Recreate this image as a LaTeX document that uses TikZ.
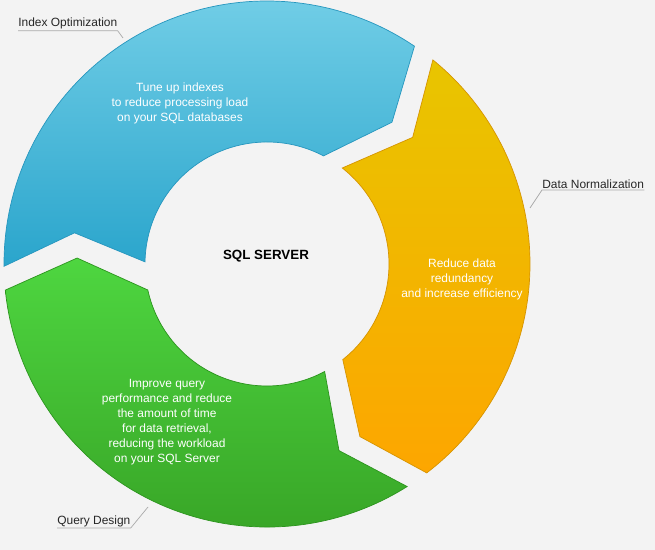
\documentclass[tikz,border=0pt]{standalone}
\usepackage{fontspec}
\setmainfont{Liberation Sans}
\usetikzlibrary{calc,positioning}
\definecolor{bgc}{RGB}{243,243,243}
\definecolor{bluetop}{RGB}{112,205,230}
\definecolor{bluebot}{RGB}{42,165,204}
\definecolor{blueline}{RGB}{38,150,190}
\definecolor{orgtop}{RGB}{232,197,0}
\definecolor{orgbot}{RGB}{253,166,0}
\definecolor{orgline}{RGB}{214,148,0}
\definecolor{grntop}{RGB}{78,214,64}
\definecolor{grnbot}{RGB}{54,160,36}
\definecolor{grnline}{RGB}{44,148,30}
\definecolor{leadc}{RGB}{170,170,170}
\tikzset{
  seg/.style={line width=0.4pt},
  intext/.style={text=white,align=center,font=\fontsize{6.8}{8.5}\selectfont},
  lbl/.style={text=black!85,inner xsep=0pt,inner ysep=0.6pt,font=\fontsize{6.8}{8}\selectfont},
  lead/.style={draw=leadc,line width=0.4pt},
}

\begin{document}
\begin{tikzpicture}[x=0.02cm,y=0.02cm]
  \fill[bgc] (0,0) rectangle (655,550);
  \useasboundingbox (0,0) rectangle (655,550);
  \coordinate (C) at (267,286);
  % blue segment (top left)
  \shadedraw[seg,top color=bluetop,bottom color=bluebot,draw=blueline]
    ($(C)+(180.5:263)$) arc[start angle=180.5,end angle=55.9,radius=263]
    -- ($(C)+(48.6:189)$) -- ($(C)+(62.4:122)$)
    arc[start angle=62.4,end angle=179,radius=122]
    -- ($(C)+(170.8:195)$) -- cycle;
  % orange segment (right)
  \shadedraw[seg,top color=orgtop,bottom color=orgbot,draw=orgline]
    ($(C)+(50.9:263)$) arc[start angle=50.9,end angle=-52.6,radius=263]
    -- ($(C)+(-61.7:196)$) -- ($(C)+(-51.6:122)$)
    arc[start angle=-51.6,end angle=51.9,radius=122]
    -- ($(C)+(41:193)$) -- cycle;
  % green segment (bottom left)
  \shadedraw[seg,top color=grntop,bottom color=grnbot,draw=grnline]
    ($(C)+(-57.8:263)$) arc[start angle=-57.8,end angle=-174.3,radius=263]
    -- ($(C)+(178.2:190)$) -- ($(C)+(-167.7:122)$)
    arc[start angle=-167.7,end angle=-61.8,radius=122]
    -- ($(C)+(-68.9:200)$) -- cycle;
  % texts
  \node[font=\bfseries\fontsize{7.6}{9}\selectfont] (sql) at (266,294) {SQL SERVER};
  \node[intext] (tidx) at (180,447) {Tune up indexes\\to reduce processing load\\on your SQL databases};
  \node[intext] (tnorm) at (462,271) {Reduce data\\redundancy\\and increase efficiency};
  \node[intext] (tqry) at (167,128) {Improve query\\performance and reduce\\the amount of time\\for data retrieval,\\reducing the workload\\on your SQL Server};
  % labels
  \node[lbl,anchor=south west] (idx) at (18,519.3) {Index Optimization};
  \coordinate (idxpt) at (123,512);
  \draw[lead] (idx.south west) -- (idx.south east) -- (idxpt);
  \node[lbl,anchor=south west] (norm) at (542,360) {Data Normalization};
  \coordinate (normpt) at (530,342);
  \draw[lead] (normpt) -- (norm.south west) -- (norm.south east);
  \node[lbl,anchor=south west] (qry) at (57,22) {Query Design};
  \coordinate (qrypt) at (148,43);
  \draw[lead] (qry.south west) -- (qry.south east) -- (qrypt);
\end{tikzpicture}
\end{document}
